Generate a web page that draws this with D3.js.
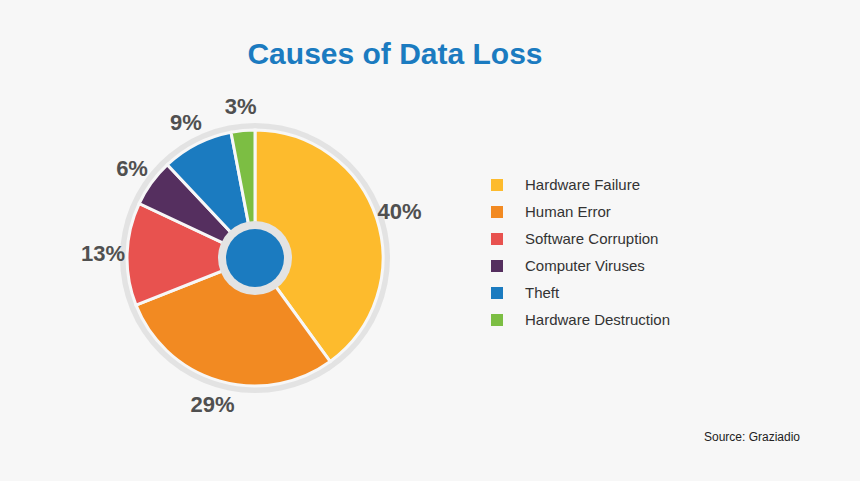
<!DOCTYPE html>
<html><head><meta charset="utf-8">
<script src="https://cdn.jsdelivr.net/npm/d3@7"></script>
<style>body{margin:0;background:#f7f7f7}</style></head>
<body><div id="chart"></div>
<script>
const categories = ['Hardware Failure', 'Human Error', 'Software Corruption', 'Computer Viruses', 'Theft', 'Hardware Destruction'];
const values = [40, 29, 13, 6, 9, 3];
const colors = ['#fdbb2d', '#f28a22', '#e8524f', '#552f5f', '#1b7bc0', '#7cbe43'];

const width = 860, height = 481;
const font = '"Liberation Sans Narrow", "Liberation Sans", Arial, sans-serif';
const svg = d3.select('#chart').append('svg')
    .attr('width', width).attr('height', height)
    .style('background', '#f7f7f7');

svg.append('text')
    .attr('x', 395).attr('y', 64)
    .attr('text-anchor', 'middle')
    .style('font-family', font).style('font-weight', 'bold').style('font-size', '30px')
    .style('fill', '#1b7bc0')
    .text('Causes of Data Loss');

const cx = 255, cy = 258;
const g = svg.append('g').attr('transform', `translate(${cx},${cy})`);
g.append('circle').attr('r', 135).attr('fill', '#e3e3e3');

const pie = d3.pie().sort(null).value(d => d);
const arcs = pie(values);
const arc = d3.arc().innerRadius(0).outerRadius(128);
g.selectAll('path.slice').data(arcs).join('path')
    .attr('class', 'slice')
    .attr('d', arc)
    .attr('fill', (d, i) => colors[i])
    .attr('stroke', '#f7f7f7').attr('stroke-width', 3);

g.append('circle').attr('r', 37).attr('fill', '#e3e3e3');
g.append('circle').attr('r', 29).attr('fill', '#1b7bc0');

const labelArc = d3.arc().innerRadius(152).outerRadius(152);
g.selectAll('text.pct').data(arcs).join('text')
    .attr('class', 'pct')
    .attr('transform', d => { const [x, y] = labelArc.centroid(d); return `translate(${x},${y})`; })
    .attr('text-anchor', 'middle').attr('dy', '0.35em')
    .style('font-family', font).style('font-weight', 'bold').style('font-size', '22px')
    .style('fill', '#505050')
    .text(d => d.data + '%');

const legend = svg.append('g').attr('transform', 'translate(491,179)');
const row = legend.selectAll('g').data(categories).join('g')
    .attr('transform', (d, i) => `translate(0,${i * 27})`);
row.append('rect').attr('width', 12).attr('height', 12).attr('fill', (d, i) => colors[i]);
row.append('text').attr('x', 34).attr('y', 6).attr('dy', '0.35em')
    .style('font-family', font).style('font-size', '15px').style('fill', '#333')
    .text(d => d);

svg.append('text')
    .attr('x', 800).attr('y', 441).attr('text-anchor', 'end')
    .style('font-family', font).style('font-size', '12px').style('fill', '#222')
    .text('Source: Graziadio');
</script></body></html>
